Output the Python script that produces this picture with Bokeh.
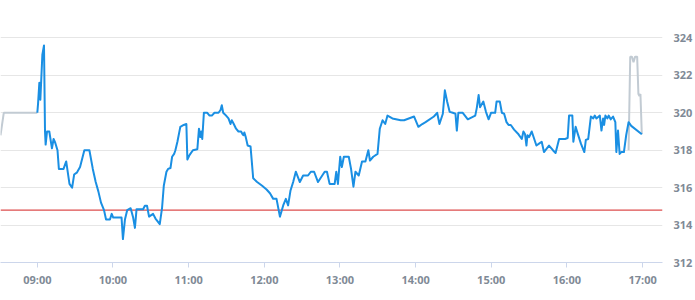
import pandas as pd
from bokeh.plotting import figure
from bokeh.models import FixedTicker, DatetimeTickFormatter, Range1d
from bokeh.embed import file_html
from bokeh.resources import INLINE

DAY = "2024-01-02 "

main_times = [
    "09:00:00", "09:00:36", "09:01:36", "09:02:24", "09:04:00", "09:05:18", "09:06:06", "09:06:36",
    "09:07:42", "09:09:30", "09:11:36", "09:12:54", "09:14:12", "09:16:00", "09:17:06", "09:20:48",
    "09:22:54", "09:25:30", "09:27:36", "09:29:12", "09:31:18", "09:33:54", "09:37:18", "09:41:18",
    "09:44:00", "09:46:18", "09:48:24", "09:50:30", "09:52:54", "09:54:30", "09:57:36", "09:59:00",
    "10:00:12", "10:02:24", "10:06:48", "10:07:54", "10:09:30", "10:11:18", "10:14:00", "10:16:00",
    "10:17:24", "10:18:42", "10:23:54", "10:25:18", "10:27:00", "10:28:36", "10:31:48", "10:33:42",
    "10:37:06", "10:38:54", "10:40:18", "10:42:24", "10:43:42", "10:45:36", "10:46:54", "10:48:30",
    "10:49:30", "10:51:06", "10:53:24", "10:56:06", "10:58:12", "10:59:00", "11:00:48", "11:03:24",
    "11:06:54", "11:08:12", "11:09:18", "11:10:00", "11:10:48", "11:12:06", "11:14:48", "11:16:36",
    "11:18:24", "11:20:30", "11:23:42", "11:25:18", "11:26:18", "11:27:24", "11:29:00", "11:31:36",
    "11:33:12", "11:34:12", "11:35:48", "11:37:36", "11:39:30", "11:41:36", "11:42:48", "11:43:24",
    "11:44:12", "11:45:18", "11:46:48", "11:49:06", "11:49:54", "11:51:12", "11:54:18", "11:58:18",
    "12:01:48", "12:04:30", "12:07:06", "12:09:42", "12:12:24", "12:15:00", "12:17:06", "12:18:54",
    "12:20:48", "12:22:54", "12:25:00", "12:28:12", "12:30:48", "12:34:42", "12:36:54", "12:39:30",
    "12:42:36", "12:47:54", "12:49:42", "12:51:48", "12:55:48", "12:57:06", "12:58:24", "13:00:12",
    "13:01:30", "13:03:06", "13:07:00", "13:08:48", "13:10:42", "13:12:18", "13:14:54", "13:17:30",
    "13:20:12", "13:22:30", "13:23:48", "13:26:24", "13:29:48", "13:31:36", "13:33:48", "13:35:54",
    "13:37:42", "13:41:36", "13:48:12", "13:50:54", "13:58:48", "14:02:12", "14:05:18", "14:07:54",
    "14:14:30", "14:17:06", "14:18:54", "14:21:36", "14:23:12", "14:25:00", "14:27:00", "14:29:30",
    "14:31:36", "14:32:42", "14:33:54", "14:37:24", "14:41:24", "14:47:18", "14:48:30", "14:50:00",
    "14:51:06", "14:53:42", "14:55:48", "14:57:54", "14:59:48", "15:03:06", "15:04:12", "15:06:48",
    "15:08:24", "15:10:12", "15:12:06", "15:13:42", "15:15:30", "15:18:06", "15:21:36", "15:24:12",
    "15:25:30", "15:26:48", "15:27:54", "15:28:42", "15:30:00", "15:32:06", "15:35:48", "15:37:54",
    "15:40:00", "15:41:48", "15:45:48", "15:48:54", "15:51:00", "15:53:48", "15:58:30", "16:00:36",
    "16:01:42", "16:04:18", "16:05:06", "16:06:54", "16:08:30", "16:11:06", "16:13:48", "16:15:00",
    "16:16:54", "16:19:00", "16:20:54", "16:22:06", "16:23:24", "16:26:06", "16:27:24", "16:28:42",
    "16:29:30", "16:30:30", "16:32:06", "16:33:06", "16:34:42", "16:36:36", "16:38:24", "16:39:12",
    "16:40:30", "16:41:48", "16:43:06", "16:45:12", "16:47:00", "16:48:54", "16:51:00", "16:59:24",
]
main_values = [
    320.0, 320.5, 321.6, 320.7, 323.1, 323.6, 319.0, 318.3,
    319.0, 319.0, 318.1, 318.6, 318.4, 318.0, 317.0, 317.0,
    317.4, 316.2, 316.0, 316.7, 316.8, 317.1, 318.0, 318.0,
    317.0, 316.3, 315.8, 315.2, 314.8, 314.3, 314.3, 314.6,
    314.4, 314.4, 314.4, 313.25, 314.3, 314.8, 314.9, 314.4,
    313.85, 314.85, 314.85, 315.03, 315.03, 314.45, 314.6, 314.35,
    314.05, 314.9, 316.1, 316.85, 317.0, 317.05, 317.65, 317.8,
    318.0, 318.45, 319.25, 319.35, 319.4, 317.5, 317.75, 318.0,
    318.05, 319.15, 318.7, 319.0, 318.6, 320.0, 320.0, 319.85,
    319.85, 320.0, 320.0, 320.15, 320.4, 320.0, 319.9, 319.7,
    319.4, 319.6, 319.4, 319.15, 319.0, 319.0, 318.85, 318.8,
    318.95, 318.7, 318.25, 318.2, 317.55, 316.5, 316.3, 316.1,
    315.9, 315.7, 315.4, 315.4, 314.45, 315.05, 315.4, 315.05,
    315.85, 316.3, 316.85, 316.3, 316.65, 316.65, 316.85, 316.85,
    316.3, 316.85, 316.85, 316.2, 316.2, 316.85, 316.2, 317.65,
    317.1, 317.65, 317.65, 317.0, 316.05, 316.85, 316.65, 317.4,
    317.4, 318.0, 317.45, 317.65, 317.8, 319.15, 319.6, 319.4,
    319.85, 319.7, 319.6, 319.6, 319.8, 319.25, 319.4, 319.5,
    319.8, 320.0, 319.4, 319.95, 321.2, 320.6, 320.05, 320.0,
    319.95, 319.05, 320.0, 320.0, 319.65, 319.85, 320.25, 320.95,
    320.3, 320.6, 320.05, 319.65, 320.0, 320.0, 320.6, 320.6,
    320.0, 319.95, 319.5, 319.35, 319.35, 319.1, 318.85, 318.6,
    319.0, 318.85, 318.25, 318.8, 318.7, 319.0, 318.25, 318.35,
    318.45, 317.9, 318.25, 318.0, 317.85, 318.6, 318.6, 318.65,
    319.85, 319.85, 318.45, 319.25, 318.9, 318.35, 317.9, 318.55,
    318.6, 319.8, 319.7, 319.85, 319.7, 319.85, 319.05, 319.7,
    319.35, 319.85, 319.7, 319.85, 319.65, 319.8, 319.5, 317.9,
    319.05, 317.8, 317.9, 317.9, 318.8, 319.5, 319.3, 318.85,
]

pre_times = ["08:30:48", "08:33:24", "09:00:00"]
pre_values = [318.8, 320.0, 320.0]

post_times = ["16:48:54", "16:50:12", "16:51:36", "16:52:48", "16:54:06", "16:55:42",
              "16:56:42", "16:57:30", "16:58:18", "16:59:24"]
post_values = [318.0, 323.0, 323.0, 322.7, 323.0, 323.0, 321.0, 320.9, 321.0, 318.85]

ref_price = 314.8
y_ticks = [312, 314, 316, 318, 320, 322, 324]
x_tick_hours = ["09:00", "10:00", "11:00", "12:00", "13:00", "14:00", "15:00", "16:00", "17:00"]


def ts(lst):
    return pd.to_datetime([DAY + t for t in lst])


x_start = pd.Timestamp(DAY + "08:30:48")
x_end = pd.Timestamp(DAY + "17:15:48")

p = figure(width=695, height=300, output_backend="svg", toolbar_location=None,
           x_axis_type="datetime", y_axis_location="right",
           x_range=Range1d(x_start, x_end), y_range=Range1d(312, 326),
           min_border_left=0, min_border_right=30, min_border_top=0, min_border_bottom=38)
p.outline_line_color = None
p.background_fill_color = "white"
p.border_fill_color = "white"

p.line([x_start, x_end], [ref_price, ref_price], line_color="#d42020", line_width=1)

p.line(ts(pre_times), pre_values, line_color="#c2cbd3", line_width=2)
p.line(ts(post_times), post_values, line_color="#c2cbd3", line_width=2)
p.line(ts(main_times), main_values, line_color="#1a8fe3", line_width=2, line_join="round")

tick_ms = [pd.Timestamp(DAY + h).value / 1e6 for h in x_tick_hours]
p.xaxis.ticker = FixedTicker(ticks=tick_ms)
fmt = "%H:%M"
p.xaxis.formatter = DatetimeTickFormatter(seconds=fmt, minsec=fmt, minutes=fmt, hourmin=fmt,
                                          hours=fmt, days=fmt, months=fmt, years=fmt)
p.yaxis.ticker = FixedTicker(ticks=y_ticks)

p.xgrid.grid_line_color = None
p.ygrid.grid_line_color = "#e6e6e6"
p.ygrid.grid_line_width = 1

for ax in (p.xaxis, p.yaxis):
    ax.major_label_text_font = "Open Sans"
    ax.major_label_text_font_size = "11px"
    ax.major_label_text_font_style = "bold"
    ax.major_label_text_color = "#7f8a96"
    ax.minor_tick_line_color = None

p.xaxis.axis_line_color = "#ccd6eb"
p.xaxis.major_tick_line_color = "#ccd6eb"
p.xaxis.major_tick_in = 0
p.xaxis.major_tick_out = 5
p.xaxis.major_label_standoff = 4

p.yaxis.axis_line_color = None
p.yaxis.major_tick_line_color = None
p.yaxis.major_tick_in = 0
p.yaxis.major_tick_out = 0
p.yaxis.major_label_standoff = 11

open("out.html", "w").write(file_html(p, INLINE))
